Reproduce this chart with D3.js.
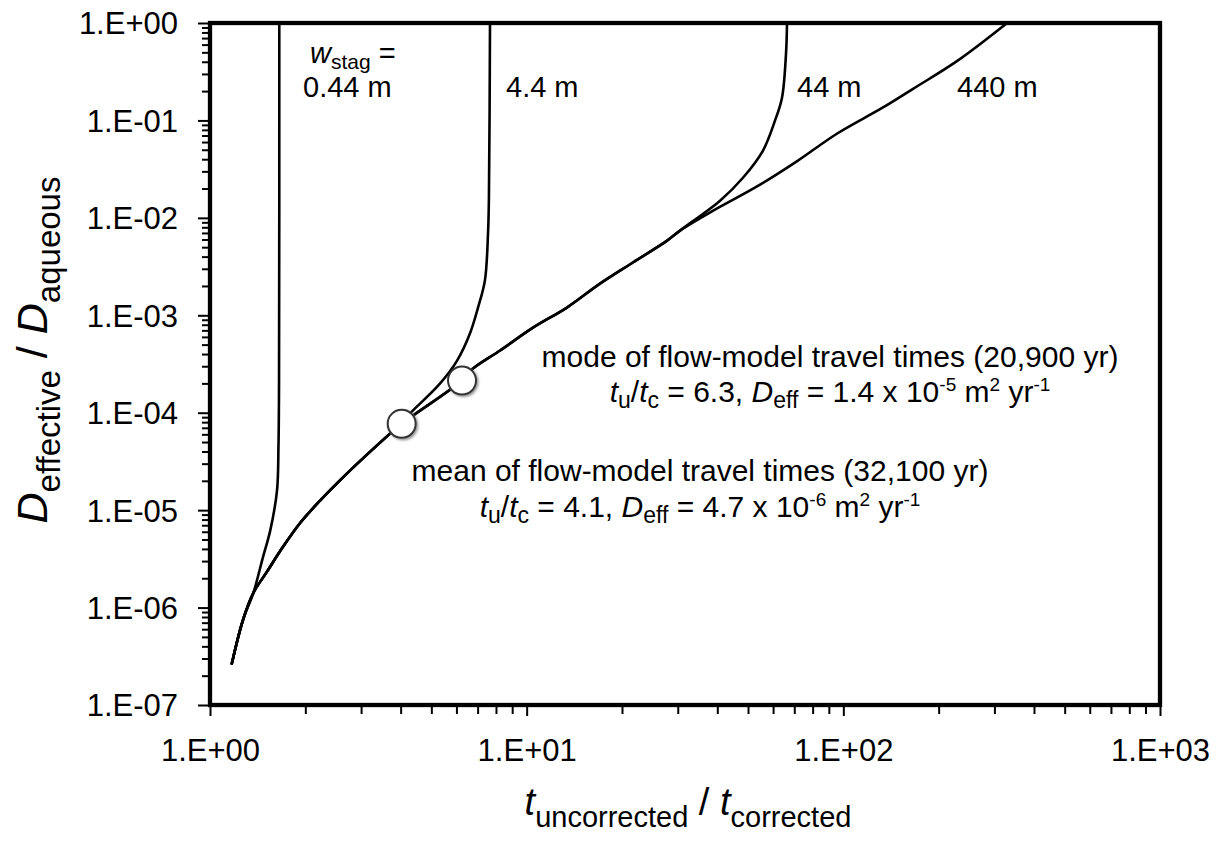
<!DOCTYPE html>
<html>
<head>
<meta charset="utf-8">
<script src="https://cdn.jsdelivr.net/npm/d3@7/dist/d3.min.js"></script>
<style>
  body { margin: 0; background: #fff; }
  text { font-family: "Liberation Sans", Arial, sans-serif; fill: #000; }
</style>
</head>
<body>
<div id="chart"></div>
<script>
// values: [t_uncorrected / t_corrected, D_effective / D_aqueous]
// w_stag = 0.44 m
const curve0_44 = [
  [1.17, 2.6e-7], [1.27, 7.4e-7], [1.37, 1.41e-6], [1.47, 3.3e-6], [1.55, 6.2e-6],
  [1.628, 1.6e-5], [1.645, 4.4e-5], [1.652, 2.1e-4], [1.655, 1]
];
// w_stag = 4.4 m
const curve4_4 = [
  [1.17, 2.6e-7], [1.27, 7.4e-7], [1.37, 1.41e-6], [1.51, 2.31e-6], [1.70, 4.2e-6],
  [1.92, 7.3e-6], [2.23, 1.26e-5], [2.63, 2.17e-5], [3.04, 3.4e-5], [3.65, 5.85e-5],
  [4.37, 1.05e-4], [5.33, 2.0e-4], [6.03, 3.43e-4], [6.62, 6.5e-4], [7.02, 1.2e-3],
  [7.38, 2.27e-3], [7.55, 6.9e-3], [7.60, 1.61e-2], [7.66, 1]
];
// w_stag = 44 m
const curve44 = [
  [1.17, 2.6e-7], [1.27, 7.4e-7], [1.37, 1.41e-6], [1.51, 2.31e-6], [1.70, 4.2e-6],
  [1.92, 7.3e-6], [2.23, 1.26e-5], [2.63, 2.17e-5], [3.04, 3.4e-5], [3.65, 5.85e-5],
  [4.03, 7.7e-5], [6.25, 2.14e-4], [6.77, 2.84e-4], [8.24, 4.35e-4], [10.5, 7.5e-4],
  [13.4, 1.2e-3], [17.0, 2.1e-3], [21.7, 3.5e-3], [27.7, 5.8e-3], [30.5, 7.4e-3],
  [40.8, 1.5e-2], [48.2, 2.58e-2], [55.7, 4.88e-2], [60.8, 9.9e-2], [64.0, 0.17],
  [65.9, 0.48], [66.4, 1]
];
// w_stag = 440 m
const curve440 = [
  [1.17, 2.6e-7], [1.27, 7.4e-7], [1.37, 1.41e-6], [1.51, 2.31e-6], [1.70, 4.2e-6],
  [1.92, 7.3e-6], [2.23, 1.26e-5], [2.63, 2.17e-5], [3.04, 3.4e-5], [3.65, 5.85e-5],
  [4.03, 7.7e-5], [6.25, 2.14e-4], [6.77, 2.84e-4], [8.24, 4.35e-4], [10.5, 7.5e-4],
  [13.4, 1.2e-3], [17.0, 2.1e-3], [21.7, 3.5e-3], [27.7, 5.8e-3], [30.5, 7.4e-3],
  [38.7, 1.18e-2], [53.4, 2.1e-2], [71.3, 3.8e-2], [95.4, 7.3e-2], [133, 0.135],
  [166, 0.211], [229, 0.408], [329, 1]
];
const curveLabels = ["0.44 m", "4.4 m", "44 m", "440 m"];

// mean and mode of flow-model travel times
const markers = [[4.03, 7.7e-5], [6.25, 2.14e-4]];

const xMajor = [1, 10, 100, 1000];
const xTickLabels = ["1.E+00", "1.E+01", "1.E+02", "1.E+03"];
const yMajor = [1e-7, 1e-6, 1e-5, 1e-4, 1e-3, 1e-2, 1e-1, 1];
const yTickLabels = ["1.E-07", "1.E-06", "1.E-05", "1.E-04", "1.E-03", "1.E-02", "1.E-01", "1.E+00"];

const width = 1225, height = 846;
const margin = { left: 210, right: 1160, top: 23, bottom: 705 };

const svg = d3.select("#chart").append("svg")
  .attr("width", width)
  .attr("height", height);

svg.append("rect").attr("width", width).attr("height", height).attr("fill", "#fff");

const defs = svg.append("defs");
const shadow = defs.append("filter").attr("id", "shadow")
  .attr("x", "-50%").attr("y", "-50%").attr("width", "200%").attr("height", "200%");
shadow.append("feDropShadow")
  .attr("dx", 1.5).attr("dy", 1.5).attr("stdDeviation", 1.3)
  .attr("flood-color", "#777").attr("flood-opacity", 0.8);

const x = d3.scaleLog().domain([1, 1000]).range([margin.left, margin.right]);
const y = d3.scaleLog().domain([1e-7, 1]).range([margin.bottom, margin.top]);

// minor ticks 2..9 of each decade
const xMinor = [];
[1, 10, 100].forEach(d => { for (let k = 2; k <= 9; k++) xMinor.push(k * d); });
const yMinor = [];
yMajor.slice(0, -1).forEach(d => { for (let k = 2; k <= 9; k++) yMinor.push(k * d); });

// axes
const xAxisMinor = svg.append("g")
  .attr("transform", `translate(0,${margin.bottom})`)
  .call(d3.axisBottom(x).tickValues(xMinor).tickSize(9).tickFormat(""));
const xAxis = svg.append("g")
  .attr("transform", `translate(0,${margin.bottom})`)
  .call(d3.axisBottom(x).tickValues(xMajor).tickSize(11).tickPadding(23)
    .tickFormat((d, i) => xTickLabels[i]));

const yAxisMinor = svg.append("g")
  .attr("transform", `translate(${margin.left},0)`)
  .call(d3.axisLeft(y).tickValues(yMinor).tickSize(8).tickFormat(""));
const yAxis = svg.append("g")
  .attr("transform", `translate(${margin.left},0)`)
  .call(d3.axisLeft(y).tickValues(yMajor).tickSize(12).tickPadding(20)
    .tickFormat((d, i) => yTickLabels[i]));

[xAxisMinor, xAxis, yAxisMinor, yAxis].forEach(a => {
  a.select(".domain").remove();
  a.selectAll("line").attr("stroke", "#000").attr("stroke-width", 2);
  a.selectAll("text")
    .attr("font-family", "'Liberation Sans', Arial, sans-serif")
    .attr("font-size", 31)
    .attr("fill", "#000");
});
yAxis.selectAll("text").attr("dy", "0.35em");

// curves
const line = d3.line()
  .x(d => x(d[0]))
  .y(d => y(d[1]))
  .curve(d3.curveCatmullRom.alpha(0.5));

[curve0_44, curve4_4, curve44, curve440].forEach(c => {
  svg.append("path")
    .datum(c)
    .attr("fill", "none")
    .attr("stroke", "#000")
    .attr("stroke-width", 2.6)
    .attr("stroke-linejoin", "round")
    .attr("d", line);
});

// frame
svg.append("rect")
  .attr("x", margin.left).attr("y", margin.top)
  .attr("width", margin.right - margin.left).attr("height", margin.bottom - margin.top)
  .attr("fill", "none").attr("stroke", "#000").attr("stroke-width", 4.3);

// markers
svg.selectAll(".marker")
  .data(markers)
  .join("circle")
  .attr("class", "marker")
  .attr("cx", d => x(d[0]))
  .attr("cy", d => y(d[1]))
  .attr("r", 14)
  .attr("fill", "#fff")
  .attr("stroke", "#333")
  .attr("stroke-width", 2)
  .attr("filter", "url(#shadow)");

// text with sub / superscripts
function rich(px, py, parts, o) {
  const t = svg.append("text")
    .attr("x", px).attr("y", py)
    .attr("text-anchor", o.anchor || "start")
    .attr("font-size", o.size);
  if (o.transform) t.attr("transform", o.transform);
  let cur = 0;
  parts.forEach(p => {
    const off = p.sub ? o.subDy : p.sup ? -o.supDy : 0;
    const s = t.append("tspan").attr("dy", off - cur).text(p.t);
    cur = off;
    if (p.it) s.attr("font-style", "italic");
    if (p.sub) s.attr("font-size", o.subSize);
    if (p.sup) s.attr("font-size", o.supSize);
  });
  return t;
}

// axis titles
rich(688, 815, [
  { t: "t", it: true }, { t: "uncorrected", sub: true }, { t: " / " },
  { t: "t", it: true }, { t: "corrected", sub: true }
], { anchor: "middle", size: 38, subSize: 29, subDy: 12 });

rich(0, 0, [
  { t: "D", it: true }, { t: "effective", sub: true }, { t: " / " },
  { t: "D", it: true }, { t: "aqueous", sub: true }
], { anchor: "middle", size: 43, subSize: 33, subDy: 13, transform: "translate(47,350) rotate(-90)" });

// curve labels
rich(310, 63, [{ t: "w", it: true }, { t: "stag", sub: true }, { t: " =" }],
  { size: 29, subSize: 21, subDy: 6 });
const labelX = [303, 506, 797, 957];
curveLabels.forEach((s, i) => {
  svg.append("text").attr("x", labelX[i]).attr("y", 97).attr("font-size", 29).text(s);
});

// annotations
const ann = { anchor: "middle", size: 30, subSize: 23, subDy: 6, supSize: 19, supDy: 11 };
rich(830, 367, [{ t: "mode of flow-model travel times (20,900 yr)" }], ann);
rich(830, 402, [
  { t: "t", it: true }, { t: "u", sub: true }, { t: "/" }, { t: "t", it: true }, { t: "c", sub: true },
  { t: " = 6.3, " }, { t: "D", it: true }, { t: "eff", sub: true }, { t: " = 1.4 x 10" },
  { t: "-5", sup: true }, { t: " m" }, { t: "2", sup: true }, { t: " yr" }, { t: "-1", sup: true }
], ann);
rich(700, 481, [{ t: "mean of flow-model travel times (32,100 yr)" }], ann);
rich(700, 517, [
  { t: "t", it: true }, { t: "u", sub: true }, { t: "/" }, { t: "t", it: true }, { t: "c", sub: true },
  { t: " = 4.1, " }, { t: "D", it: true }, { t: "eff", sub: true }, { t: " = 4.7 x 10" },
  { t: "-6", sup: true }, { t: " m" }, { t: "2", sup: true }, { t: " yr" }, { t: "-1", sup: true }
], ann);
</script>
</body>
</html>
